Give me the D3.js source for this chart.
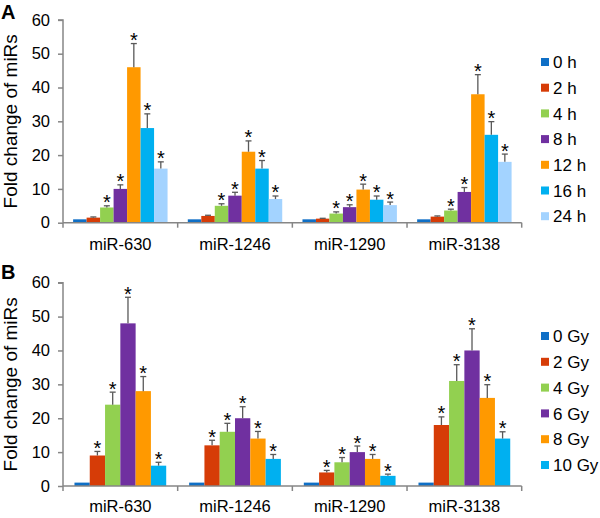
<!DOCTYPE html>
<html><head><meta charset="utf-8">
<script src="https://cdn.jsdelivr.net/npm/d3@7"></script>
<style>body{margin:0;background:#fff}svg{display:block}text{font-family:"Liberation Sans",Arial,sans-serif}</style>
</head><body><svg id="c" width="600" height="518"></svg>
<script>
const categories = ["miR-630","miR-1246","miR-1290","miR-3138"];
const yTicks = [0,10,20,30,40,50,60];

const timeLabels = ["0 h","2 h","4 h","8 h","12 h","16 h","24 h"];
const timeColors = ["#0F6FC6","#D63C07","#92D050","#7030A0","#FF9900","#00B0F0","#A3D3FF"];
const timeValues = [
  [1,1,1,1],
  [1.5,2,1.2,1.8],
  [4.5,5,2.7,3.6],
  [10,8,4.6,9.1],
  [46,21,9.8,38],
  [28,16,6.8,26],
  [16,7,5.2,18]
];
const timeErrors = [
  [0,0,0,0],
  [0.2,0.2,0.1,0.2],
  [0.5,0.6,0.5,0.4],
  [1.2,1,0.7,1.3],
  [7,3.2,1.6,5.8],
  [4.2,2.4,1.1,3.9],
  [2,0.9,0.9,2.3]
];
const timeSig = [false,false,true,true,true,true,true];

const doseLabels = ["0 Gy","2 Gy","4 Gy","6 Gy","8 Gy","10 Gy"];
const doseColors = ["#0F6FC6","#D63C07","#92D050","#7030A0","#FF9900","#00B0F0"];
const doseValues = [
  [1,1,1,1],
  [9,12,4,18],
  [24,16,7,31],
  [48,20,10,40],
  [28,14,8,26],
  [6,8,3,14]
];
const doseErrors = [
  [0,0,0,0],
  [1.2,1.5,0.6,2.4],
  [3.7,2.5,1.4,4.8],
  [7.7,3.4,1.8,6.4],
  [4.3,2.1,1.3,3.9],
  [1,1.3,0.5,2]
];
const doseSig = [false,true,true,true,true,true];

const svg = d3.select("#c");
const axisColor = "#868686";

function panel(cfg){
  const g = svg.append("g");
  const y = d3.scaleLinear().domain([0,60]).range([cfg.y0, cfg.y60]);
  const x0 = d3.scaleBand().domain(categories).range([63, 521.7]).padding(0);
  const bw = x0.bandwidth();
  const n = cfg.labels.length;
  const b = bw/(n+1.5);
  const x1 = d3.scaleBand().domain(d3.range(n)).range([0.75*b, bw-0.75*b]).padding(0);

  cfg.values.forEach((vals, s) => {
    categories.forEach((c, ci) => {
      const v = vals[ci], e = cfg.errors[s][ci];
      const bx = x0(c) + x1(s);
      g.append("rect").attr("x", bx).attr("y", y(v)).attr("width", x1.bandwidth())
        .attr("height", y(0)-y(v)).attr("fill", cfg.colors[s]);
      const cx = bx + x1.bandwidth()/2;
      if (e > 0) {
        g.append("line").attr("x1",cx).attr("x2",cx).attr("y1",y(v)).attr("y2",y(v+e))
          .attr("stroke","#595959").attr("stroke-width",1.3);
        g.append("line").attr("x1",cx-3).attr("x2",cx+3).attr("y1",y(v+e)).attr("y2",y(v+e))
          .attr("stroke","#595959").attr("stroke-width",1.3);
      }
      if (cfg.sig[s]) {
        g.append("text").attr("x",cx).attr("y",y(v+e)+3.5).attr("text-anchor","middle")
          .attr("font-size",20).attr("fill","#000").text("*");
      }
    });
  });

  const ya = g.append("g").attr("transform","translate(63,0)")
    .call(d3.axisLeft(y).tickValues(yTicks).tickSize(5).tickPadding(8).tickFormat(d3.format("d")));
  ya.select(".domain").attr("stroke",axisColor).attr("stroke-width",1.5).attr("d",`M-5,${y(60)}H0V${y(0)}`);
  ya.selectAll(".tick line").attr("stroke",axisColor).attr("stroke-width",1.5);
  ya.selectAll(".tick text").attr("font-size",16.5).attr("fill","#000")
    .attr("font-family","Liberation Sans, Arial, sans-serif");

  const bounds = [63].concat(categories.map(c => x0(c)+bw));
  g.append("line").attr("x1",63).attr("x2",521.7).attr("y1",y(0)).attr("y2",y(0))
    .attr("stroke",axisColor).attr("stroke-width",1.5);
  bounds.forEach(bx => {
    g.append("line").attr("x1",bx).attr("x2",bx).attr("y1",y(0)).attr("y2",y(0)+5)
      .attr("stroke",axisColor).attr("stroke-width",1.5);
  });
  categories.forEach(c => {
    g.append("text").attr("x",x0(c)+bw/2).attr("y",cfg.labelY).attr("text-anchor","middle")
      .attr("font-size",16.5).attr("fill","#000").text(c);
  });

  g.append("text").attr("transform",`translate(17,${(y(0)+y(60))/2}) rotate(-90)`)
    .attr("text-anchor","middle").attr("font-size",19).attr("fill","#000").text("Fold change of miRs");

  g.append("text").attr("x",1).attr("y",cfg.letterY).attr("font-size",20).attr("font-weight","bold")
    .attr("fill","#000").text(cfg.letter);

  cfg.labels.forEach((l, i) => {
    const cy = cfg.legY + i*cfg.legStep;
    g.append("rect").attr("x",541).attr("y",cy-4).attr("width",8).attr("height",8).attr("fill",cfg.colors[i]);
    g.append("text").attr("x",553).attr("y",cy).attr("dy","0.36em").attr("font-size",17)
      .attr("fill","#000").text(l);
  });
}

panel({letter:"A", letterY:19, y0:222.7, y60:19.9, labelY:250, labels:timeLabels, colors:timeColors,
  values:timeValues, errors:timeErrors, sig:timeSig, legY:62, legStep:25.7});
panel({letter:"B", letterY:279, y0:486, y60:282.7, labelY:512, labels:doseLabels, colors:doseColors,
  values:doseValues, errors:doseErrors, sig:doseSig, legY:336, legStep:25.8});
</script></body></html>
